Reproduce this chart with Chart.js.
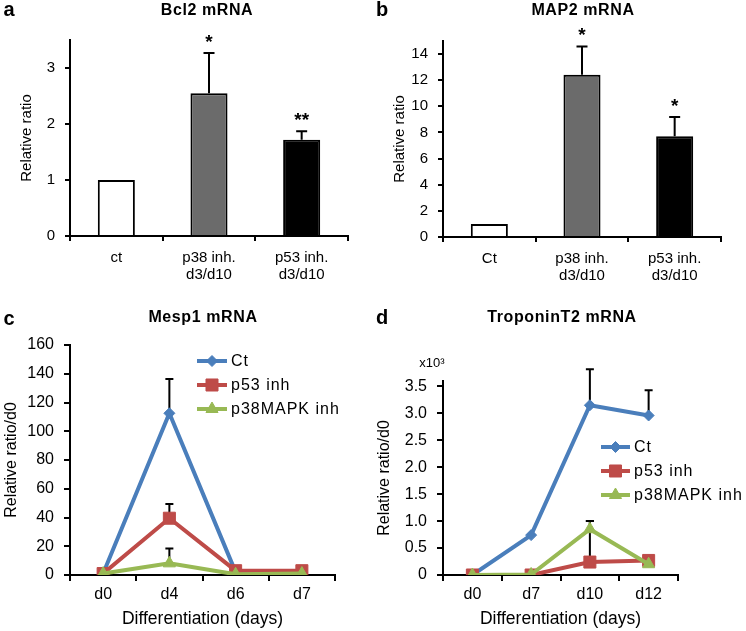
<!DOCTYPE html>
<html>
<head>
<meta charset="utf-8">
<script src="https://cdn.jsdelivr.net/npm/chart.js@4.4.1/dist/chart.umd.min.js"></script>
<style>
body { margin: 0; background: #fff; font-family: 'Liberation Sans', Arial, sans-serif; }
#fig { position: relative; width: 746px; height: 631px; overflow: hidden; }
.pan { position: absolute; }
.txt { position: absolute; transform: translate(-50%, -50%); white-space: nowrap; line-height: 1; color: #000; }
.letter { font-weight: bold; font-size: 20px; }
.ttl { font-weight: bold; font-size: 16px; letter-spacing: 0.6px; }
</style>
</head>
<body>
<div id="fig">
  <canvas class="pan" id="cA" width="373" height="300" style="left:0;top:0"></canvas>
  <canvas class="pan" id="cB" width="373" height="300" style="left:373px;top:0"></canvas>
  <canvas class="pan" id="cC" width="373" height="331" style="left:0;top:300px"></canvas>
  <canvas class="pan" id="cD" width="373" height="331" style="left:373px;top:300px"></canvas>

  <div class="txt letter" style="left:9px;top:9px">a</div>
  <div class="txt letter" style="left:382px;top:9px">b</div>
  <div class="txt letter" style="left:9px;top:318px">c</div>
  <div class="txt letter" style="left:382px;top:317px">d</div>

  <div class="txt ttl" style="left:207px;top:10px">Bcl2 mRNA</div>
  <div class="txt ttl" style="left:583px;top:10px">MAP2 mRNA</div>
  <div class="txt ttl" style="left:203px;top:317px">Mesp1 mRNA</div>
  <div class="txt ttl" style="left:562px;top:317px">TroponinT2 mRNA</div>

  <div class="txt" style="left:432px;top:362px;font-size:13px">x10³</div>
</div>

<script>
// ----------------------------------------------------------------------
// data
const bcl2Cats = ['ct', ['p38 inh.', 'd3/d10'], ['p53 inh.', 'd3/d10']];
const bcl2Vals = [1, 2.55, 1.72];
const bcl2Sd = [0, 0.72, 0.15];
const bcl2Stars = ['', '*', '**'];

const map2Cats = ['Ct', ['p38 inh.', 'd3/d10'], ['p53 inh.', 'd3/d10']];
const map2Vals = [1, 12.42, 7.71];
const map2Sd = [0, 2.16, 1.48];
const map2Stars = ['', '*', '*'];

const barColors = ['#ffffff', '#6b6b6b', '#000000'];

const mespDays = ['d0', 'd4', 'd6', 'd7'];
const mespCt = [1, 112.5, 2, 2];
const mespCtSd = [0, 23.8, 0, 0];
const mespP53 = [1, 39.5, 3, 3];
const mespP53Sd = [0, 9.9, 0, 0];
const mespP38 = [1, 8.1, 0.5, 1];
const mespP38Sd = [0, 10.4, 0, 0];

// TroponinT2 values in thousands (axis is x10^3)
const tropDays = ['d0', 'd7', 'd10', 'd12'];
const tropCt = [0, 0.74, 3.15, 2.96];
const tropCtSd = [0, 0, 0.67, 0.47];
const tropP53 = [0, 0, 0.24, 0.27];
const tropP53Sd = [0, 0, 0.76, 0.05];
const tropP38 = [0, 0.01, 0.85, 0.2];
const tropP38Sd = [0, 0, 0.15, 0];

const seriesNames = ['Ct', 'p53 inh', 'p38MAPK inh'];
const seriesColors = ['#4a7ebb', '#be4b48', '#98b954'];
const seriesMarkers = ['rectRot', 'rect', 'triangle'];
const markerSizes = [5.5, 8.5, 7];

// ----------------------------------------------------------------------
Chart.defaults.font.family = "'Liberation Sans', Arial, sans-serif";
Chart.defaults.color = '#000';
Chart.defaults.animation = false;
Chart.defaults.plugins.legend.display = false;
Chart.defaults.plugins.tooltip.enabled = false;

function drawErrors(chart, opts)
{
    const ctx = chart.ctx;
    const y = chart.scales.y;
    ctx.save();
    ctx.strokeStyle = '#000';
    ctx.lineWidth = 2;
    chart.data.datasets.forEach((ds, di) => {
        if (!ds.errors) return;
        const meta = chart.getDatasetMeta(di);
        ds.errors.forEach((sd, i) => {
            if (!sd) return;
            const x = meta.data[i].x;
            const y0 = y.getPixelForValue(ds.data[i]);
            const y1 = y.getPixelForValue(ds.data[i] + sd);
            ctx.beginPath();
            ctx.moveTo(x, y0);
            ctx.lineTo(x, y1);
            ctx.moveTo(x - opts.cap, y1);
            ctx.lineTo(x + opts.cap, y1);
            ctx.stroke();
        });
    });
    ctx.restore();
}

const errorBars = {
    id: 'errorBars',
    beforeDatasetsDraw(chart, args, opts) {
        if (opts.behind) drawErrors(chart, opts);
    },
    afterDatasetsDraw(chart, args, opts) {
        if (!opts.behind) drawErrors(chart, opts);
        // significance stars above the error bars
        const ctx = chart.ctx;
        const y = chart.scales.y;
        chart.data.datasets.forEach((ds, di) => {
            if (!ds.stars) return;
            const meta = chart.getDatasetMeta(di);
            ctx.save();
            ctx.font = 'bold 19px "Liberation Sans", Arial, sans-serif';
            ctx.fillStyle = '#000';
            ctx.textAlign = 'center';
            ctx.textBaseline = 'alphabetic';
            ds.stars.forEach((s, i) => {
                if (!s) return;
                const top = y.getPixelForValue(ds.data[i] + (ds.errors ? ds.errors[i] : 0));
                ctx.fillText(s, meta.data[i].x, top - 5);
            });
            ctx.restore();
        });
    }
};

function marker(ctx, style, r, x, y)
{
    if (Chart.helpers && Chart.helpers.drawPoint) {
        Chart.helpers.drawPoint(ctx, {pointStyle: style, radius: r, rotation: 0, borderWidth: 1}, x, y);
        return;
    }
    ctx.beginPath();
    ctx.arc(x, y, r, 0, Math.PI * 2);
    ctx.fill();
}

const seriesKey = {
    id: 'seriesKey',
    afterDatasetsDraw(chart, args, opts) {
        const ctx = chart.ctx;
        ctx.save();
        chart.data.datasets.forEach((ds, i) => {
            const yy = opts.y + i * opts.gap;
            ctx.strokeStyle = ds.borderColor;
            ctx.fillStyle = ds.borderColor;
            ctx.lineWidth = ds.borderWidth;
            ctx.beginPath();
            ctx.moveTo(opts.x, yy);
            ctx.lineTo(opts.x + opts.len, yy);
            ctx.stroke();
            ctx.lineWidth = 1;
            marker(ctx, ds.pointStyle, ds.pointRadius, opts.x + opts.len / 2, yy);
            ctx.fillStyle = '#000';
            ctx.font = '16px "Liberation Sans", Arial, sans-serif';
            ctx.letterSpacing = '1px';
            ctx.textAlign = 'left';
            ctx.textBaseline = 'middle';
            ctx.fillText(ds.label, opts.x + opts.len + 4, yy + 1);
            ctx.letterSpacing = '0px';
        });
        ctx.restore();
    }
};

function axisY(max, step, title, size, tl, fmt, titlePad)
{
    return {
        min: 0, max: max,
        ticks: {stepSize: step, includeBounds: false, font: {size: size}, padding: 10, color: '#000',
                callback: fmt || (v => v)},
        grid: {display: true, drawOnChartArea: false, drawTicks: true, tickLength: tl, color: '#000', lineWidth: 2},
        border: {display: true, color: '#000', width: 2},
        title: {display: true, text: title, color: '#000', font: {size: size}, padding: {top: titlePad}},
        afterFit: s => { s.width = 70; }
    };
}

function barChart(id, cats, vals, sd, stars, yMax, yStep, zeroY)
{
    const config = {
        type: 'bar',
        data: {
            labels: cats,
            datasets: [{
                data: vals,
                errors: sd,
                stars: stars,
                backgroundColor: barColors,
                borderColor: '#000',
                borderWidth: 2,
                categoryPercentage: 1,
                barPercentage: 0.4
            }]
        },
        options: {
            responsive: false,
            layout: {padding: {top: zeroY - 196, right: 25, left: 0, bottom: 0}},
            scales: {
                x: {
                    ticks: {font: {size: 15, lineHeight: 1.15}, padding: 8, color: '#000', maxRotation: 0},
                    grid: {display: true, drawOnChartArea: false, tickLength: 5, color: '#000', lineWidth: 2, offset: true},
                    border: {display: true, color: '#000', width: 2},
                    afterFit: s => { s.height = 300 - zeroY; }
                },
                y: axisY(yMax, yStep, 'Relative ratio', 15, 5, null, 18)
            },
            plugins: {errorBars: {cap: 5.5, behind: false}}
        },
        plugins: [errorBars]
    };
    return new Chart(document.getElementById(id), config);
}

function lineSets(vals, sds)
{
    return vals.map((v, i) => ({
        label: seriesNames[i],
        data: v,
        errors: sds[i],
        borderColor: seriesColors[i],
        backgroundColor: seriesColors[i],
        borderWidth: 4,
        pointStyle: seriesMarkers[i],
        pointRadius: markerSizes[i],
        pointBorderWidth: 1,
        tension: 0,
        order: 3 - i
    }));
}

function lineChart(id, days, vals, sds, y, top, right, key)
{
    const config = {
        type: 'line',
        data: {labels: days, datasets: lineSets(vals, sds)},
        options: {
            responsive: false,
            layout: {padding: {top: top, right: right, left: 0, bottom: 0}},
            scales: {
                x: {
                    offset: true,
                    ticks: {font: {size: 16}, padding: 4, color: '#000', maxRotation: 0},
                    grid: {display: true, drawOnChartArea: false, tickLength: 6, color: '#000', lineWidth: 2, offset: true},
                    border: {display: true, color: '#000', width: 2},
                    title: {display: true, text: 'Differentiation (days)', color: '#000', font: {size: 17.5}, padding: {top: 0, bottom: 1}},
                    afterFit: s => { s.height = 56; }
                },
                y: y
            },
            plugins: {errorBars: {cap: 4, behind: true}, seriesKey: key}
        },
        plugins: [errorBars, seriesKey]
    };
    return new Chart(document.getElementById(id), config);
}

barChart('cA', bcl2Cats, bcl2Vals, bcl2Sd, bcl2Stars, 3.5, 1, 236);
barChart('cB', map2Cats, map2Vals, map2Sd, map2Stars, 15, 2, 237);

lineChart('cC', mespDays, [mespCt, mespP53, mespP38], [mespCtSd, mespP53Sd, mespP38Sd],
    axisY(160, 20, 'Relative ratio/d0', 16, 6, null, 2), 45, 38,
    {x: 197, y: 61, gap: 24, len: 30});

lineChart('cD', tropDays, [tropCt, tropP53, tropP38], [tropCtSd, tropP53Sd, tropP38Sd],
    axisY(3.6, 0.5, 'Relative ratio/d0', 16, 6, v => (v === 0 ? '0' : v.toFixed(1)), 2), 81, 68,
    {x: 228, y: 147, gap: 24, len: 29});
</script>
</body>
</html>
